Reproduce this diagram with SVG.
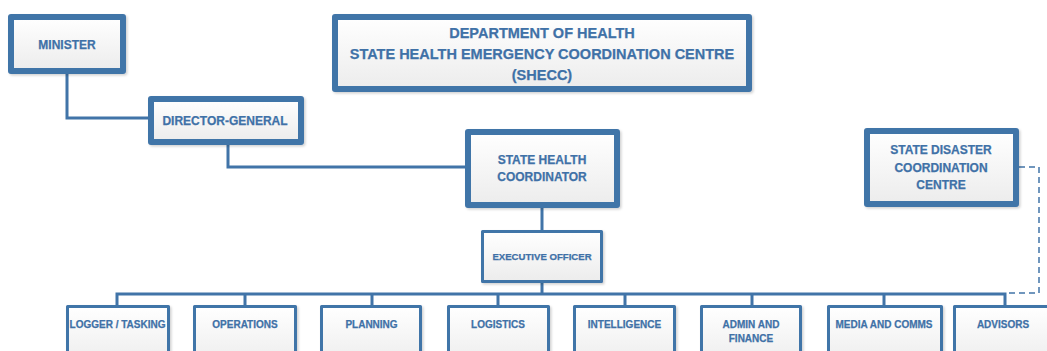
<svg xmlns="http://www.w3.org/2000/svg" width="1047" height="351" viewBox="0 0 1047 351">
<defs>
<linearGradient id="fillg" x1="0" y1="0" x2="0" y2="1">
<stop offset="0" stop-color="#ffffff"/>
<stop offset="1" stop-color="#ececec"/>
</linearGradient>
<filter id="sh" x="-10%" y="-10%" width="125%" height="130%">
<feDropShadow dx="1.5" dy="1.5" stdDeviation="1.2" flood-color="#000" flood-opacity="0.18"/>
</filter>
<style>
.box{fill:url(#fillg);stroke:#4174a8;stroke-linejoin:round;filter:url(#sh)}
.thick{stroke-width:6}
.thin{stroke-width:3}
.t{font-family:"Liberation Sans",Arial,sans-serif;font-weight:bold;fill:#3f71a7;stroke:#3f71a7;stroke-width:0.25;text-anchor:middle}
.big{font-size:14.5px}
.mid{font-size:12px}
.sm{font-size:9.6px}
.bt{font-size:10px}
.conn{fill:none;stroke:#4174a8;stroke-width:3}
.dash{fill:none;stroke:#4174a8;stroke-width:1.5;stroke-dasharray:6,4}
</style>
</defs>
<rect width="1047" height="351" fill="#ffffff"/>
<g id="connectors">
<path class="conn" d="M67,74 V118 H150"/>
<path class="conn" d="M228,145 V167 H467"/>
<path class="conn" d="M542,208 V231"/>
<path class="conn" d="M542,283 V294"/>
<path class="conn" d="M117,305 V294 H1005 V305"/>
<path class="conn" d="M245,294 V305 M372,294 V305 M498,294 V305 M625,294 V305 M752,294 V305 M884,294 V305"/>
<path class="dash" d="M1019,167 H1039 V293 H1006"/>
</g>
<g id="title">
<rect class="box thick" x="335" y="17" width="414" height="72"/>
<text class="t big" x="542" y="38">DEPARTMENT OF HEALTH</text>
<text class="t big" x="542" y="59">STATE HEALTH EMERGENCY COORDINATION CENTRE</text>
<text class="t big" x="542" y="80">(SHECC)</text>
</g>
<g id="minister">
<rect class="box thick" x="11" y="17" width="112" height="54"/>
<text class="t mid" x="67" y="48.5">MINISTER</text>
</g>
<g id="director-general">
<rect class="box thick" x="151" y="99" width="150" height="43"/>
<text class="t mid" x="225" y="124.5">DIRECTOR-GENERAL</text>
</g>
<g id="state-health-coordinator">
<rect class="box thick" x="468" y="132" width="149" height="73"/>
<text class="t mid" x="542" y="163.5">STATE HEALTH</text>
<text class="t mid" x="542" y="180.5">COORDINATOR</text>
</g>
<g id="state-disaster-coordination-centre">
<rect class="box thick" x="867" y="131" width="149" height="73"/>
<text class="t mid" x="941" y="153.5">STATE DISASTER</text>
<text class="t mid" x="941" y="171.5">COORDINATION</text>
<text class="t mid" x="941" y="188.5">CENTRE</text>
</g>
<g id="executive-officer">
<rect class="box thin" x="482.5" y="231.5" width="119" height="50"/>
<text class="t sm" x="542" y="259.5">EXECUTIVE OFFICER</text>
</g>
<g id="logger-tasking">
<rect class="box thin" x="67.5" y="306.5" width="101" height="60"/>
<text class="t bt" x="117.5" y="327.5">LOGGER / TASKING</text>
</g>
<g id="operations">
<rect class="box thin" x="194.5" y="306.5" width="101" height="60"/>
<text class="t bt" x="245" y="327.5">OPERATIONS</text>
</g>
<g id="planning">
<rect class="box thin" x="321.5" y="306.5" width="99" height="60"/>
<text class="t bt" x="371.5" y="327.5">PLANNING</text>
</g>
<g id="logistics">
<rect class="box thin" x="448.5" y="306.5" width="100" height="60"/>
<text class="t bt" x="498" y="327.5">LOGISTICS</text>
</g>
<g id="intelligence">
<rect class="box thin" x="574.5" y="306.5" width="100" height="60"/>
<text class="t bt" x="624.5" y="327.5">INTELLIGENCE</text>
</g>
<g id="admin-finance">
<rect class="box thin" x="701.5" y="306.5" width="99" height="60"/>
<text class="t bt" x="751" y="327.5">ADMIN AND</text>
<text class="t bt" x="751" y="341.5">FINANCE</text>
</g>
<g id="media-comms">
<rect class="box thin" x="828.5" y="306.5" width="113" height="60"/>
<text class="t bt" x="884" y="327.5">MEDIA AND COMMS</text>
</g>
<g id="advisors">
<rect class="box thin" x="954.5" y="306.5" width="100" height="60"/>
<text class="t bt" x="1003" y="327.5">ADVISORS</text>
</g>
</svg>
